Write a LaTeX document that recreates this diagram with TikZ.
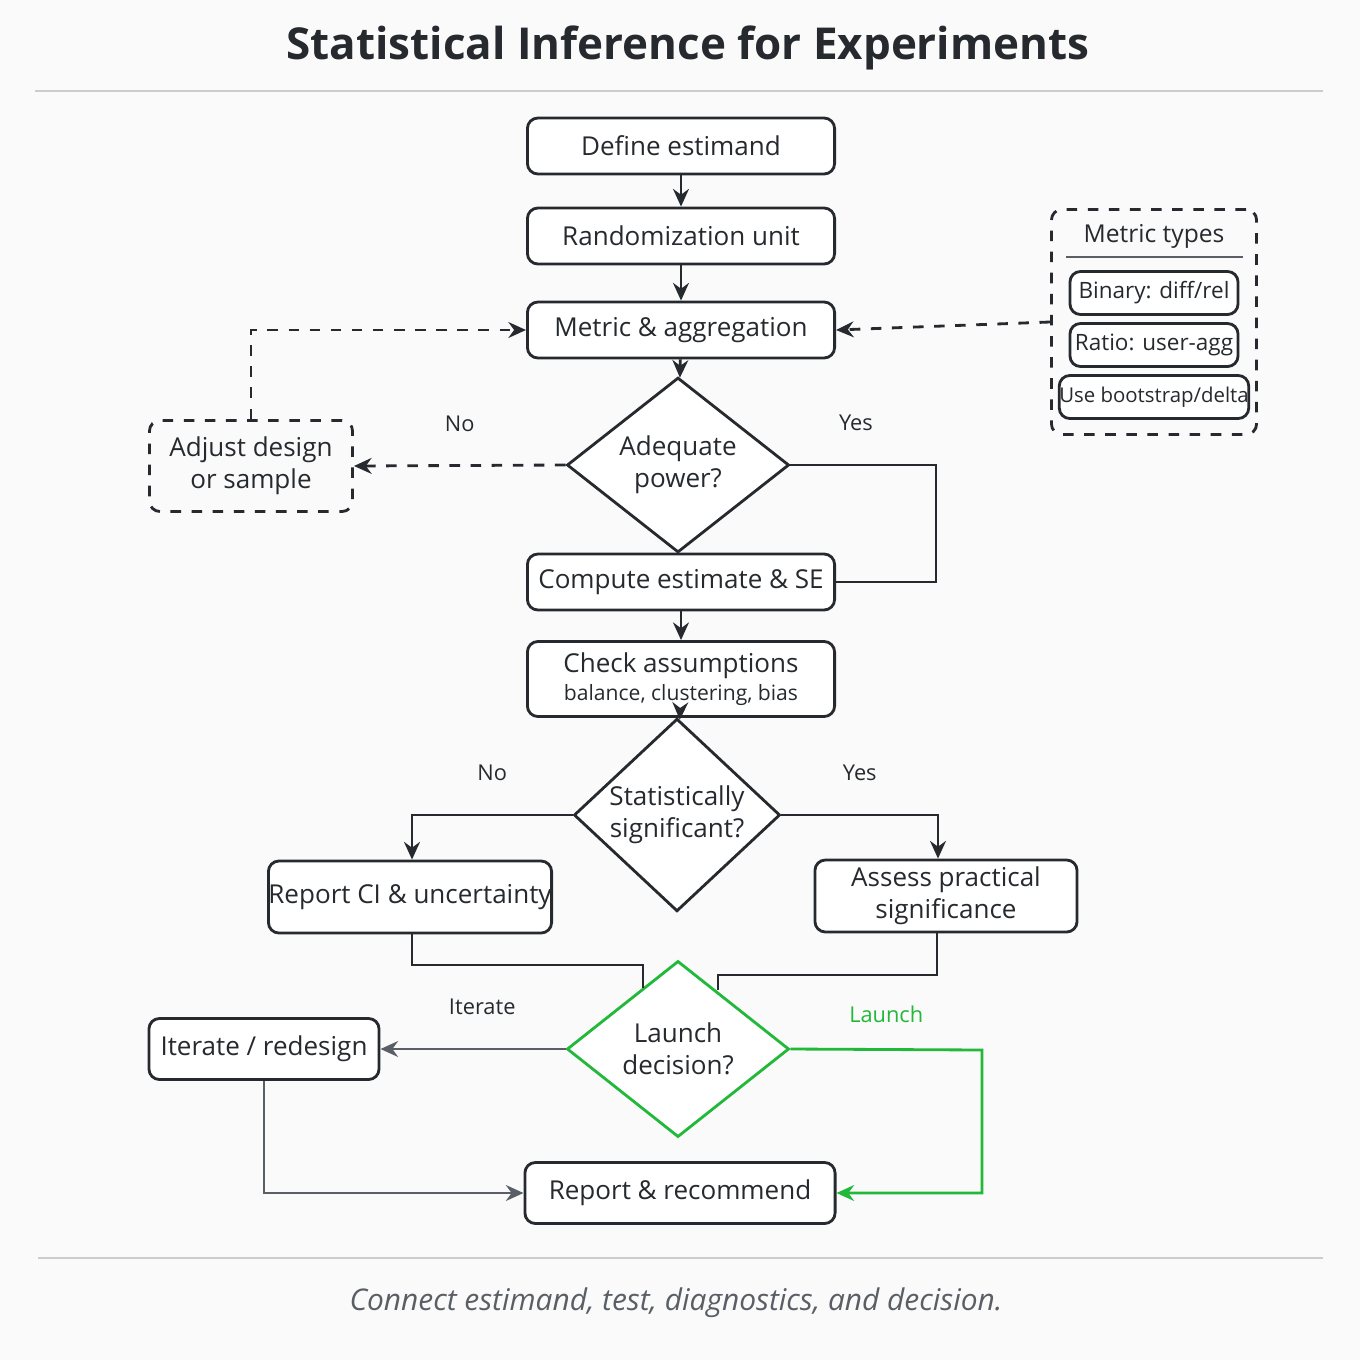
\documentclass[tikz,border=0pt]{standalone}
\usepackage{fontspec}
\setmainfont{Open Sans}
\usetikzlibrary{shapes.geometric,arrows.meta}
\definecolor{ink}{HTML}{262A2E}
\definecolor{mute}{HTML}{5A5F66}
\definecolor{go}{HTML}{22B83A}
\begin{document}
\begin{tikzpicture}[x=0.01cm,y=-0.01cm,
    box/.style={draw=ink,thick,rounded corners=3pt,fill=white,align=center,
        font=\fontsize{7.4}{9}\selectfont,text=ink,inner sep=0pt},
    dbox/.style={box,dashed,fill=none},
    decision/.style={draw=ink,thick,diamond,fill=white,align=center,inner sep=0pt,
        font=\fontsize{7.4}{9}\selectfont,text=ink},
    flow/.style={ink,thick,-{Stealth[length=5pt,width=4.5pt]}},
    line/.style={ink,thick},
    lbl/.style={font=\fontsize{6.2}{7}\selectfont,text=ink}]
    \fill[white!98!black] (0,0) rectangle (1360,1360);
    \useasboundingbox (0,0) rectangle (1360,1360);

    % title and rules
    \node (title) at (688,48) {\fontsize{12.5}{14}\selectfont\bfseries\color{ink}Statistical Inference for Experiments};
    \draw[gray!40] (35,91) -- (1323,91);
    \draw[gray!40] (38,1258) -- (1323,1258);
    \node (caption) at (676,1303) {\fontsize{8.5}{10}\selectfont\itshape\color{mute}Connect estimand, test, diagnostics, and decision.};

    % main chain
    \node[box,minimum width=3.07cm,minimum height=0.56cm] (estimand) at (681,146) {Define estimand};
    \node[box,minimum width=3.07cm,minimum height=0.56cm] (unit) at (681,236) {Randomization unit};
    \node[box,minimum width=3.07cm,minimum height=0.56cm] (metric) at (681,330) {Metric \& aggregation};
    \node[decision,minimum width=2.22cm,minimum height=1.45cm] (power) at (678,465) {Adequate\\power?};
    \node[dbox,minimum width=2.03cm,minimum height=0.91cm] (adjust) at (251,466) {Adjust design\\or sample};
    \node[box,minimum width=3.07cm,minimum height=0.56cm] (compute) at (681,582) {Compute estimate \& SE};
    \node[box,minimum width=3.07cm,minimum height=0.75cm] (check) at (681,679)
        {Check assumptions\\[-1pt]{\fontsize{6}{7}\selectfont balance, clustering, bias}};
    \node[decision,minimum width=2.06cm,minimum height=1.36cm] (signif) at (677,815) {Statistically\\significant?};
    \node[box,minimum width=2.51cm,minimum height=0.72cm] (reportci) at (410,897) {Report CI \& uncertainty};
    \node[box,minimum width=2.62cm,minimum height=0.72cm] (practical) at (946,896) {Assess practical\\significance};
    \node[decision,draw=go,minimum width=2.22cm,minimum height=1.76cm] (launch) at (678,1049) {Launch\\decision?};
    \node[box,minimum width=2.30cm,minimum height=0.61cm] (iterate) at (264,1049) {Iterate / redesign};
    \node[box,minimum width=3.10cm,minimum height=0.61cm] (recommend) at (680,1193) {Report \& recommend};

    % metric types panel
    \node[dbox,minimum width=2.05cm,minimum height=2.25cm] (types) at (1154,322) {};
    \node[lbl,font=\fontsize{7}{8}\selectfont] (typestitle) at (1154,236) {Metric types};
    \draw[mute] (1066,257) -- (1243,257);
    \node[box,minimum width=1.68cm,minimum height=0.43cm,font=\fontsize{6.4}{7}\selectfont] (binary) at (1154,293) {Binary: diff/rel};
    \node[box,minimum width=1.68cm,minimum height=0.43cm,font=\fontsize{6.4}{7}\selectfont] (ratio) at (1154,345) {Ratio: user-agg};
    \node[box,minimum width=1.68cm,minimum height=0.43cm,font=\fontsize{5.8}{7}\selectfont] (boot) at (1154,397) {Use bootstrap/delta};

    % connectors
    \draw[flow] (estimand) -- (unit);
    \draw[flow] (unit) -- (metric);
    \draw[flow] (metric) -- (power);
    \draw[flow,dashed] (power.west) -- node[lbl,above=6pt] {No} (adjust.east);
    \draw[flow,dashed] (adjust.north) |- (metric.west);
    \draw[flow,dashed] (types.west) -- (metric.east);
    \draw[line] (power.east) -- node[lbl,above=6pt,pos=0.45] {Yes} (936,465) |- (compute.east);
    \draw[flow] (compute) -- (check);
    \draw[flow] (check) -- (signif);
    \draw[flow] (signif.west) -- node[lbl,above=6pt] {No} (412,815) -- (reportci.north -| 412,0);
    \draw[flow] (signif.east) -- node[lbl,above=6pt] {Yes} (938,815) -- (practical.north -| 938,0);
    \draw[line] (reportci.south -| 412,0) |- (643,965) -- (643,988);
    \draw[line] (practical.south -| 937,0) |- (718,975) -- (718,990);
    \draw[flow,mute] (launch.west) -- node[lbl,above=6pt,pos=0.45] {Iterate} (iterate.east);
    \draw[flow,go] (launch.east) -- node[lbl,text=go,above=4pt,pos=0.5] {Launch} (982,1050) |- (recommend.east);
    \draw[flow,mute] (iterate.south) |- (recommend.west);
\end{tikzpicture}
\end{document}
